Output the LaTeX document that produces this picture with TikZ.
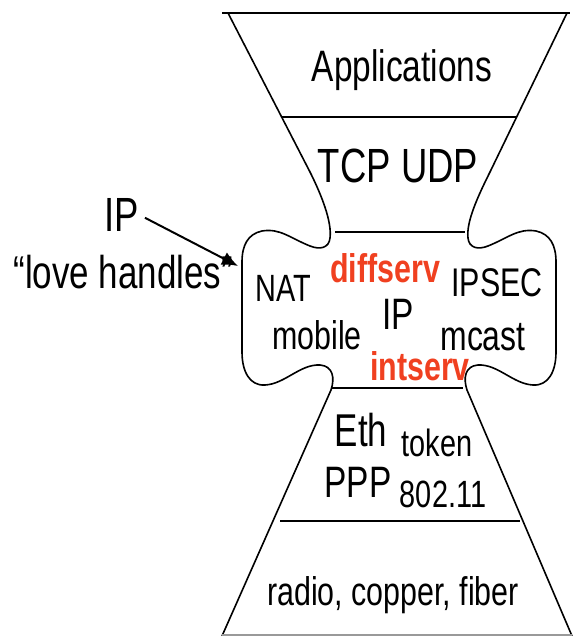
\documentclass[tikz,border=0pt]{standalone}
\usepackage{fontspec}
\setmainfont{Liberation Sans}[FakeStretch=0.76]
\usetikzlibrary{arrows.meta}
\definecolor{ipred}{RGB}{240,64,32}
\tikzset{
  layer/.style={inner sep=0pt, font=\fontsize{#1}{#1}\selectfont},
  hot/.style={inner sep=0pt, text=ipred, font=\bfseries\fontsize{#1}{#1}\selectfont},
  rim/.style={line width=0.8pt},
}

\begin{document}
\begin{tikzpicture}[x=0.5pt, y=-0.5pt]
  \useasboundingbox (0,0) rectangle (572,636);

  % hourglass
  \draw[rim] (222,13) -- (570,13);
  \draw[rim] (228,13) -- (310,172)
    .. controls (322,196) and (332,222) .. (330,238)
    .. controls (329,248) and (320,250) .. (310,246)
    .. controls (290,238) and (280,228) .. (262,231)
    .. controls (248,234) and (242,245) .. (242,262)
    -- (242,352)
    .. controls (242,372) and (250,386) .. (265,385)
    .. controls (285,384) and (300,364) .. (320,365)
    .. controls (333,366) and (335,378) .. (331,390)
    -- (222,636);
  \draw[rim] (567,13) -- (490,172)
    .. controls (478,196) and (466,222) .. (468,238)
    .. controls (469,248) and (478,250) .. (488,246)
    .. controls (508,238) and (518,228) .. (536,231)
    .. controls (550,234) and (556,245) .. (556,262)
    -- (556,352)
    .. controls (556,372) and (548,386) .. (533,385)
    .. controls (513,384) and (498,364) .. (478,365)
    .. controls (465,366) and (463,378) .. (467,390)
    -- (572,636);
  \draw[rim] (282,117) -- (517,117);
  \draw[rim] (335,232) -- (465,232);
  \draw[rim] (332,388) -- (463,388);
  \draw[rim] (280,521) -- (520,521);
  \draw[rim, black!40] (222,635) -- (572,635);

  % layers
  \node[layer=22] (apps) at (402,70) {Applications};
  \node[layer=24] (transport) at (398,166) {TCP UDP};
  \node[layer=19] (nat) at (283,288) {NAT};
  \node[hot=20] (diffserv) at (385,268) {diffserv};
  \node[layer=20] (ipsec) at (497,283) {IPSEC};
  \node[layer=22] (ip) at (398,314) {IP};
  \node[layer=20] (mobile) at (317,335) {mobile};
  \node[layer=21] (mcast) at (483,337) {mcast};
  \node[hot=20] (intserv) at (420,366) {intserv};
  \node[layer=23] (eth) at (361,430) {Eth};
  \node[layer=19] (token) at (437,443) {token};
  \node[layer=22] (ppp) at (358,482) {PPP};
  \node[layer=19] (wifi) at (443,494) {802.11};
  \node[layer=20] (phys) at (393,595) {radio, copper, fiber};

  % callout
  \node[layer=24] (iplabel) at (122,215) {IP};
  \node[layer=23, anchor=west] (handles) at (13,272) {“love handles”};
  \coordinate (lobe) at (238,266);
  \draw[line width=1pt, shorten <=3pt, -{Latex[length=8pt,width=7pt]}] (iplabel.east) -- (lobe);
\end{tikzpicture}
\end{document}
